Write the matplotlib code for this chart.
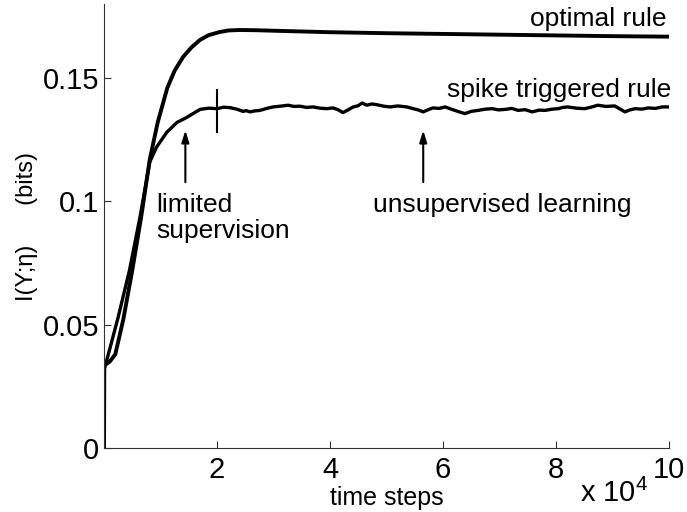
import matplotlib
matplotlib.use("Agg")
import matplotlib.pyplot as plt

plt.rcParams['font.family'] = ['Liberation Sans', 'DejaVu Sans']
plt.rcParams['mathtext.default'] = 'regular'

# time in units of 1e4 steps
optimal_t = [0, 0.005, 0.1, 0.2, 0.34, 0.5, 0.66, 0.81, 0.95, 1.12, 1.25, 1.4,
             1.55, 1.7, 1.85, 2.05, 2.2, 2.4, 2.7, 3.0, 4.0, 5.0, 6.0, 7.0,
             8.0, 9.0, 10.0]
optimal_info = [0, 0.0335, 0.035, 0.038, 0.052, 0.072, 0.094, 0.117, 0.132,
                0.146, 0.1530, 0.1586, 0.1625, 0.1655, 0.1674, 0.1687, 0.1693,
                0.1695, 0.1694, 0.1692, 0.1686, 0.1682, 0.1679, 0.1676,
                0.1673, 0.1670, 0.1668]

spike_t = [0, 0.005, 0.1, 0.25, 0.45, 0.64, 0.81, 0.93, 1.11, 1.29, 1.46,
           1.70, 1.85, 2.00, 2.12, 2.23, 2.35, 2.46, 2.52, 2.58, 2.67, 2.76,
           2.88, 2.99, 3.12, 3.26, 3.36, 3.47, 3.58, 3.70, 3.82, 3.95, 4.05,
           4.14, 4.23, 4.32, 4.41, 4.50, 4.57, 4.65, 4.74, 4.83, 4.95, 5.06,
           5.20, 5.36, 5.47, 5.56, 5.65, 5.74, 5.82, 5.93, 6.04, 6.12, 6.21,
           6.30, 6.39, 6.50, 6.62, 6.75, 6.87, 6.98, 7.10, 7.22, 7.33, 7.45,
           7.58, 7.70, 7.81, 7.93, 8.04, 8.12, 8.21, 8.36, 8.51, 8.62, 8.74,
           8.88, 9.04, 9.13, 9.22, 9.31, 9.40, 9.52, 9.63, 9.76, 9.88, 10.0]
spike_info = [0, 0.032, 0.040, 0.053, 0.072, 0.094, 0.116, 0.122, 0.128,
              0.132, 0.134, 0.1373, 0.1378, 0.1376, 0.1382, 0.1380, 0.1374,
              0.1365, 0.1368, 0.1363, 0.1367, 0.1369, 0.1377, 0.1383, 0.1386,
              0.1390, 0.1385, 0.1386, 0.1381, 0.1383, 0.1378, 0.1376, 0.1379,
              0.1372, 0.1360, 0.1371, 0.1383, 0.1388, 0.1399, 0.1390, 0.1395,
              0.1392, 0.1386, 0.1383, 0.1387, 0.1383, 0.1376, 0.1371, 0.1363,
              0.1372, 0.1379, 0.1377, 0.1383, 0.1376, 0.1369, 0.1362, 0.1356,
              0.1365, 0.1369, 0.1374, 0.1376, 0.1371, 0.1373, 0.1377, 0.1369,
              0.1372, 0.1363, 0.1370, 0.1369, 0.1374, 0.1376, 0.1381, 0.1383,
              0.1378, 0.1376, 0.1382, 0.1390, 0.1385, 0.1387, 0.1375, 0.1363,
              0.1371, 0.1376, 0.1374, 0.1379, 0.1377, 0.1383, 0.1383]

x_ticks = [2, 4, 6, 8, 10]
y_ticks = [0, 0.05, 0.1, 0.15]
y_ticklabels = ['0', '0.05', '0.1', '0.15']

switch_t = 2.0
switch_span = (0.1283, 0.1452)
arrow_t = [1.44, 5.65]

fig = plt.figure(figsize=(6.87, 5.12), dpi=100)
ax = fig.add_axes([0.1514, 0.125, 0.8224, 0.867])

ax.plot(optimal_t, optimal_info, color='black', lw=2.8, solid_capstyle='butt')
ax.plot(spike_t, spike_info, color='black', lw=2.4, solid_joinstyle='round')

# marker where supervision stops
ax.plot([switch_t, switch_t], switch_span, color='black', lw=1.5)

for t in arrow_t:
    ax.annotate('', xy=(t, 0.1288), xytext=(t, 0.1078),
                arrowprops=dict(arrowstyle='-|>,head_length=0.7,head_width=0.22',
                                color='black', lw=1.5, shrinkA=0, shrinkB=0))

ax.text(7.54, 0.1711, 'optimal rule', fontsize=19, va='baseline')
ax.text(6.07, 0.1425, 'spike triggered rule', fontsize=19, va='baseline',
        clip_on=False)
ax.text(0.92, 0.0957, 'limited', fontsize=19, va='baseline')
ax.text(0.92, 0.0852, 'supervision', fontsize=19, va='baseline')
ax.text(4.76, 0.0957, 'unsupervised learning', fontsize=19, va='baseline')

ax.set_xlim(0, 10)
ax.set_ylim(0, 0.18)
ax.set_xticks(x_ticks)
ax.set_yticks(y_ticks)
ax.set_yticklabels(y_ticklabels)
ax.tick_params(direction='in', length=5, width=0.8, labelsize=21,
               color='#333333')
ax.tick_params(axis='x', pad=6)

for side in ['top', 'right']:
    ax.spines[side].set_visible(False)
for side in ['left', 'bottom']:
    ax.spines[side].set_color('#333333')
    ax.spines[side].set_linewidth(0.8)

ax.set_xlabel('time steps', fontsize=18, labelpad=1)
ax.set_ylabel('I(Y;η)      (bits)', fontsize=17, labelpad=3)

# MATLAB style exponent
ax.text(8.42, -0.0219, r'x 10$^{4}$', fontsize=21, va='baseline',
        clip_on=False)

fig.savefig('out.png', dpi=100)
